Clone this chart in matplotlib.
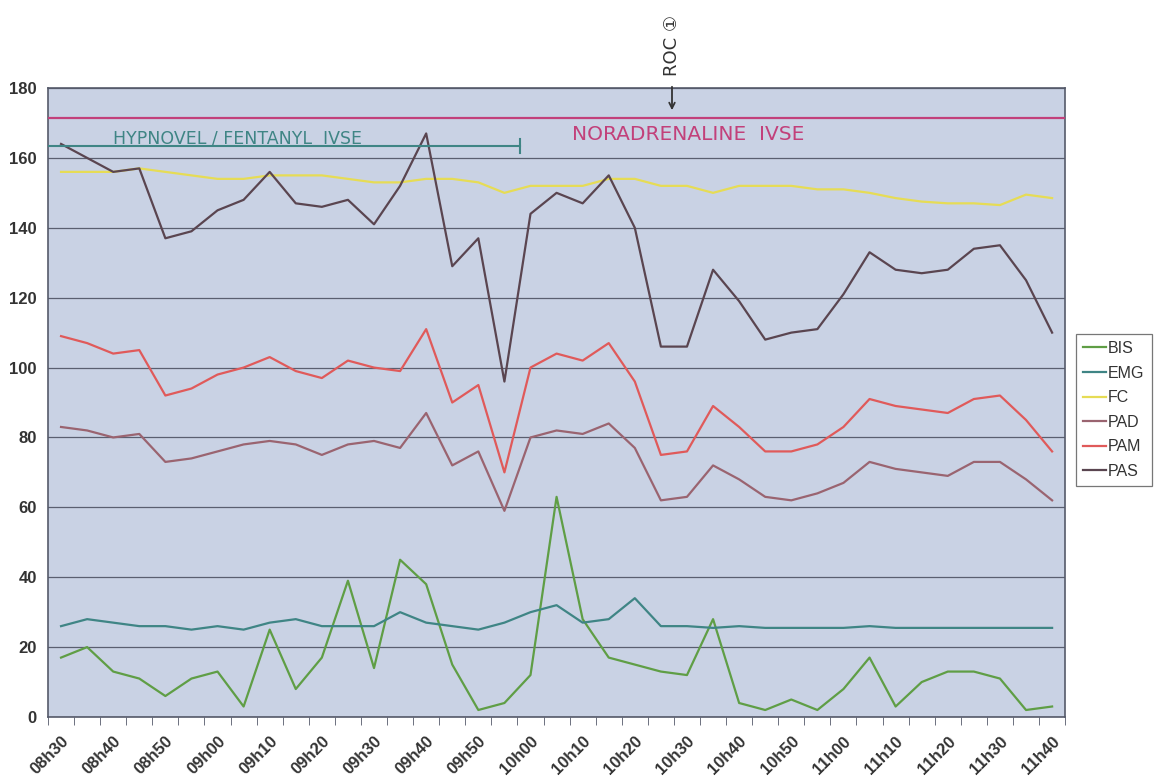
import matplotlib
matplotlib.use("Agg")
import matplotlib.pyplot as plt

# time axis (5 min steps)
times = ["08h30", "08h35", "08h40", "08h45", "08h50", "08h55", "09h00", "09h05",
         "09h10", "09h15", "09h20", "09h25", "09h30", "09h35", "09h40", "09h45",
         "09h50", "09h55", "10h00", "10h05", "10h10", "10h15", "10h20", "10h25",
         "10h30", "10h35", "10h40", "10h45", "10h50", "10h55", "11h00", "11h05",
         "11h10", "11h15", "11h20", "11h25", "11h30", "11h35", "11h40"]

bis = [17, 20, 13, 11, 6, 11, 13, 3, 25, 8, 17, 39, 14, 45, 38, 15, 2, 4, 12, 63,
       28, 17, 15, 13, 12, 28, 4, 2, 5, 2, 8, 17, 3, 10, 13, 13, 11, 2, 3]
emg = [26, 28, 27, 26, 26, 25, 26, 25, 27, 28, 26, 26, 26, 30, 27, 26, 25, 27, 30, 32,
       27, 28, 34, 26, 26, 25.5, 26, 25.5, 25.5, 25.5, 25.5, 26, 25.5, 25.5, 25.5, 25.5,
       25.5, 25.5, 25.5]
fc = [156, 156, 156, 157, 156, 155, 154, 154, 155, 155, 155, 154, 153, 153, 154, 154,
      153, 150, 152, 152, 152, 154, 154, 152, 152, 150, 152, 152, 152, 151, 151, 150,
      148.5, 147.5, 147, 147, 146.5, 149.5, 148.5]
pad = [83, 82, 80, 81, 73, 74, 76, 78, 79, 78, 75, 78, 79, 77, 87, 72, 76, 59, 80, 82,
       81, 84, 77, 62, 63, 72, 68, 63, 62, 64, 67, 73, 71, 70, 69, 73, 73, 68, 62]
pam = [109, 107, 104, 105, 92, 94, 98, 100, 103, 99, 97, 102, 100, 99, 111, 90, 95, 70,
       100, 104, 102, 107, 96, 75, 76, 89, 83, 76, 76, 78, 83, 91, 89, 88, 87, 91, 92,
       85, 76]
pas = [164, 160, 156, 157, 137, 139, 145, 148, 156, 147, 146, 148, 141, 152, 167, 129,
       137, 96, 144, 150, 147, 155, 140, 106, 106, 128, 119, 108, 110, 111, 121, 133,
       128, 127, 128, 134, 135, 125, 110]

series = [("BIS", bis, "#5f9e45"), ("EMG", emg, "#3f8585"), ("FC", fc, "#e6dc55"),
          ("PAD", pad, "#9a6470"), ("PAM", pam, "#e05a5a"), ("PAS", pas, "#5a4550")]

fig = plt.figure(figsize=(11.54, 7.79), dpi=100)
ax = fig.add_axes([0.0416, 0.0796, 0.8814, 0.8074])
ax.set_facecolor("#c9d2e4")

x = list(range(len(times)))
for name, vals, col in series:
    ax.plot(x, vals, color=col, lw=1.6, label=name, zorder=3)

ax.set_xlim(-0.5, len(times) - 0.5)
ax.set_ylim(0, 180)
ax.set_yticks(range(0, 181, 20))
ax.yaxis.grid(True, color="#5a5f70", lw=0.9)
ax.set_axisbelow(True)

ax.set_xticks(x[::2])
ax.set_xticklabels(times[::2], rotation=45, ha="right", rotation_mode="anchor")
ax.set_xticks([i - 0.5 for i in x] + [len(times) - 0.5], minor=True)
ax.tick_params(axis="x", which="major", length=0, pad=12)
ax.tick_params(axis="x", which="minor", length=6, color="#555a6a", direction="out")
ax.tick_params(axis="y", length=0, pad=8)
for lbl in ax.get_xticklabels() + ax.get_yticklabels():
    lbl.set_fontsize(12)
    lbl.set_color("#333333")
    lbl.set_fontweight("bold")
    lbl.set_fontfamily("Liberation Sans")
for s in ax.spines.values():
    s.set_color("#555a6a")
    s.set_linewidth(1.2)

# handwritten annotations
ax.axhline(171.4, color="#c2407a", lw=1.6, zorder=4)
ax.plot([-0.5, 17.6], [163.4, 163.4], color="#3f8585", lw=1.5, zorder=4)
ax.plot([17.6, 17.6], [161.5, 165.5], color="#3f8585", lw=1.5, zorder=4)
ax.text(2.0, 165.6, "HYPNOVEL / FENTANYL  IVSE", color="#3f8585", fontsize=12.5,
        va="center", ha="left", zorder=5)
ax.text(19.6, 166.8, "NORADRENALINE  IVSE", color="#c2407a", fontsize=14.5,
        va="center", ha="left", zorder=5)
fig.text(672 / 1154, 1 - 45 / 779, "ROC \u2460", rotation=90, color="#333333",
         fontsize=13, ha="center", va="center")
ax.annotate("", xy=(672 / 1154, 1 - 113 / 779), xycoords="figure fraction",
            xytext=(672 / 1154, 1 - 84 / 779), textcoords="figure fraction",
            arrowprops=dict(arrowstyle="->", color="#333333", lw=1.3))

leg = fig.legend(loc="center left", bbox_to_anchor=(1076 / 1154, 1 - 410 / 779),
                 fontsize=11.5, frameon=True, fancybox=False, handlelength=1.45,
                 handletextpad=0.1, borderpad=0.45, labelspacing=0.6,
                 borderaxespad=0)
leg.get_frame().set_edgecolor("#555555")
leg.get_frame().set_linewidth(0.9)
for t in leg.get_texts():
    t.set_color("#333333")
    t.set_fontfamily("Liberation Sans")

fig.savefig("out.png", dpi=100)
